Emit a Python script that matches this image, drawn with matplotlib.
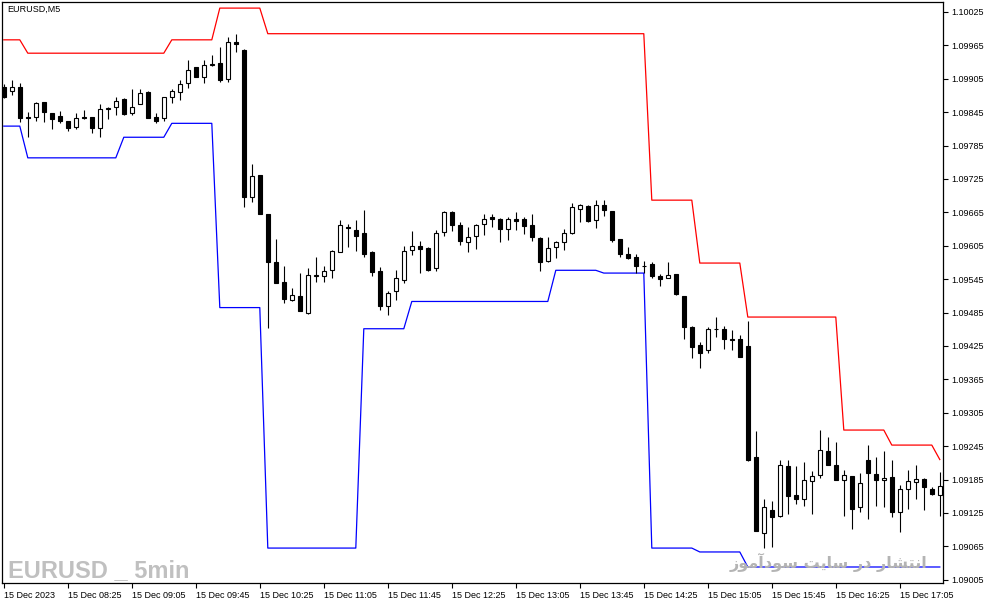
import numpy as np
import matplotlib.pyplot as plt

plt.rcParams['font.family'] = ['Liberation Sans', 'DejaVu Sans']

# EURUSD M5, 15 Dec 2023 from 07:45
opens = [1.09890, 1.09883, 1.09890, 1.09836, 1.09837, 1.09863, 1.09843, 1.09838, 1.09829, 1.09819,
         1.09836, 1.09836, 1.09816, 1.09850, 1.09855, 1.09868, 1.09844, 1.09859, 1.09881, 1.09836,
         1.09834, 1.09872, 1.09881, 1.09897, 1.09926, 1.09908, 1.09930, 1.09933, 1.09904, 1.09972,
         1.09957, 1.09693, 1.09732, 1.09662, 1.09576, 1.09540, 1.09507, 1.09515, 1.09485, 1.09551,
         1.09551, 1.09561, 1.09594, 1.09639, 1.09633, 1.09628, 1.09594, 1.09560, 1.09496, 1.09523,
         1.09544, 1.09597, 1.09604, 1.09601, 1.09566, 1.09629, 1.09665, 1.09642, 1.09612, 1.09622,
         1.09644, 1.09657, 1.09653, 1.09636, 1.09653, 1.09653, 1.09642, 1.09619, 1.09577, 1.09602,
         1.09612, 1.09628, 1.09671, 1.09677, 1.09651, 1.09678, 1.09668, 1.09617, 1.09590, 1.09585,
         1.09569, 1.09573, 1.09551, 1.09548, 1.09554, 1.09515, 1.09459, 1.09426, 1.09417, 1.09456,
         1.09455, 1.09438, 1.09437, 1.09425, 1.09226, 1.09089, 1.09131, 1.09120, 1.09210, 1.09157,
         1.09151, 1.09183, 1.09193, 1.09236, 1.09211, 1.09184, 1.09191, 1.09136, 1.09221, 1.09195,
         1.09184, 1.09189, 1.09126, 1.09168, 1.09180, 1.09186, 1.09169, 1.09158]
highs = [1.09896, 1.09903, 1.09898, 1.09846, 1.09864, 1.09864, 1.09843, 1.09847, 1.09829, 1.09843,
         1.09849, 1.09836, 1.09859, 1.09854, 1.09872, 1.09871, 1.09886, 1.09886, 1.09883, 1.09843,
         1.09873, 1.09886, 1.09903, 1.09939, 1.09927, 1.09938, 1.09948, 1.09962, 1.09980, 1.09986,
         1.09959, 1.09752, 1.09732, 1.09662, 1.09618, 1.09569, 1.09529, 1.09556, 1.09566, 1.09585,
         1.09568, 1.09597, 1.09651, 1.09644, 1.09651, 1.09669, 1.09596, 1.09567, 1.09524, 1.09561,
         1.09605, 1.09632, 1.09613, 1.09602, 1.09633, 1.09668, 1.09668, 1.09647, 1.09638, 1.09645,
         1.09662, 1.09662, 1.09655, 1.09657, 1.09666, 1.09656, 1.09662, 1.09621, 1.09620, 1.09614,
         1.09635, 1.09681, 1.09680, 1.09678, 1.09687, 1.09687, 1.09668, 1.09617, 1.09603, 1.09591,
         1.09577, 1.09575, 1.09554, 1.09575, 1.09554, 1.09515, 1.09461, 1.09433, 1.09460, 1.09477,
         1.09461, 1.09454, 1.09445, 1.09470, 1.09272, 1.09150, 1.09147, 1.09221, 1.09221, 1.09210,
         1.09216, 1.09201, 1.09274, 1.09262, 1.09252, 1.09202, 1.09191, 1.09197, 1.09247, 1.09226,
         1.09236, 1.09220, 1.09175, 1.09202, 1.09211, 1.09187, 1.09172, 1.09198]
lows = [1.09871, 1.09876, 1.09828, 1.09801, 1.09830, 1.09828, 1.09815, 1.09826, 1.09812, 1.09815,
        1.09833, 1.09808, 1.09800, 1.09833, 1.09840, 1.09840, 1.09840, 1.09859, 1.09835, 1.09825,
        1.09830, 1.09862, 1.09867, 1.09889, 1.09908, 1.09898, 1.09928, 1.09900, 1.09900, 1.09954,
        1.09674, 1.09684, 1.09662, 1.09457, 1.09539, 1.09503, 1.09505, 1.09487, 1.09482, 1.09540,
        1.09540, 1.09548, 1.09593, 1.09602, 1.09596, 1.09584, 1.09551, 1.09489, 1.09481, 1.09508,
        1.09539, 1.09589, 1.09556, 1.09559, 1.09560, 1.09623, 1.09632, 1.09606, 1.09594, 1.09600,
        1.09625, 1.09638, 1.09611, 1.09616, 1.09633, 1.09627, 1.09613, 1.09560, 1.09575, 1.09583,
        1.09598, 1.09626, 1.09647, 1.09648, 1.09637, 1.09659, 1.09612, 1.09585, 1.09581, 1.09557,
        1.09556, 1.09548, 1.09532, 1.09547, 1.09517, 1.09438, 1.09403, 1.09386, 1.09412, 1.09442,
        1.09420, 1.09418, 1.09405, 1.09219, 1.09093, 1.09062, 1.09064, 1.09118, 1.09124, 1.09141,
        1.09138, 1.09124, 1.09187, 1.09211, 1.09184, 1.09120, 1.09097, 1.09126, 1.09114, 1.09138,
        1.09135, 1.09117, 1.09090, 1.09132, 1.09150, 1.09131, 1.09157, 1.09120]
closes = [1.09873, 1.09890, 1.09835, 1.09834, 1.09861, 1.09846, 1.09832, 1.09830, 1.09817, 1.09834,
          1.09834, 1.09817, 1.09850, 1.09852, 1.09865, 1.09841, 1.09855, 1.09879, 1.09835, 1.09830,
          1.09873, 1.09883, 1.09895, 1.09920, 1.09909, 1.09929, 1.09931, 1.09903, 1.09971, 1.09967,
          1.09693, 1.09730, 1.09662, 1.09575, 1.09539, 1.09509, 1.09516, 1.09487, 1.09552, 1.09553,
          1.09559, 1.09595, 1.09642, 1.09637, 1.09623, 1.09591, 1.09558, 1.09496, 1.09521, 1.09547,
          1.09595, 1.09604, 1.09600, 1.09561, 1.09628, 1.09665, 1.09642, 1.09614, 1.09620, 1.09642,
          1.09653, 1.09654, 1.09636, 1.09654, 1.09650, 1.09641, 1.09621, 1.09575, 1.09601, 1.09611,
          1.09628, 1.09674, 1.09678, 1.09650, 1.09678, 1.09669, 1.09615, 1.09591, 1.09583, 1.09568,
          1.09569, 1.09551, 1.09546, 1.09553, 1.09518, 1.09460, 1.09424, 1.09413, 1.09455, 1.09456,
          1.09437, 1.09435, 1.09405, 1.09220, 1.09093, 1.09136, 1.09118, 1.09211, 1.09156, 1.09150,
          1.09184, 1.09191, 1.09238, 1.09211, 1.09184, 1.09193, 1.09132, 1.09178, 1.09196, 1.09184,
          1.09187, 1.09126, 1.09169, 1.09182, 1.09186, 1.09171, 1.09160, 1.09174]

# channel lines (step levels, one value per bar)
upper = ([1.09975] * 3 + [1.09951] * 18 + [1.09975] * 6 + [1.10032] * 6 + [1.09986] * 48
         + [1.09687] * 6 + [1.09574] * 6 + [1.09477] * 12 + [1.09274] * 6 + [1.09247] * 6 + [1.09221])
lower = ([1.09820] * 3 + [1.09763] * 12 + [1.09800] * 6 + [1.09825] * 6 + [1.09494] * 6
         + [1.09062] * 12 + [1.09456] * 6 + [1.09505] * 18 + [1.09561] * 6 + [1.09556] * 6
         + [1.09062] * 6 + [1.09055] * 6 + [1.09028] * 25)

time_labels = ['15 Dec 2023', '15 Dec 08:25', '15 Dec 09:05', '15 Dec 09:45', '15 Dec 10:25',
               '15 Dec 11:05', '15 Dec 11:45', '15 Dec 12:25', '15 Dec 13:05', '15 Dec 13:45',
               '15 Dec 14:25', '15 Dec 15:05', '15 Dec 15:45', '15 Dec 16:25', '15 Dec 17:05']
price_ticks = [1.09005, 1.09065, 1.09125, 1.09185, 1.09245, 1.09305, 1.09365, 1.09425, 1.09485,
               1.09545, 1.09605, 1.09665, 1.09725, 1.09785, 1.09845, 1.09905, 1.09965, 1.10025]

o = np.array(opens)
h = np.array(highs)
l = np.array(lows)
c = np.array(closes)
x = np.arange(len(o))

fig = plt.figure(figsize=(9.87, 6.05), dpi=100)
ax = fig.add_axes([2.3 / 987, 22 / 605, 941 / 987, 581 / 605])

# channel
ax.plot(x, upper, color='#ff0000', lw=0.9, zorder=1)
ax.plot(x, lower, color='#0000ff', lw=0.9, zorder=1)

# candles
ax.vlines(x, l, h, color='black', lw=0.8, zorder=2)
bottom = np.minimum(o, c)
height = np.abs(c - o)
face = np.where(c < o, 'black', 'white')
ax.bar(x, height, bottom=bottom, width=0.55, color=face, edgecolor='black', linewidth=0.8, zorder=3)

ax.set_xlim(-0.1875, 117.4375)
ax.set_ylim(1.0899925, 1.1004296)

ax.yaxis.tick_right()
ax.set_yticks(price_ticks)
ax.set_yticklabels(['%.5f' % v for v in price_ticks])
ax.set_xticks(np.arange(0, len(time_labels) * 8, 8))
ax.set_xticklabels(time_labels, ha='left')
ax.tick_params(axis='both', direction='out', length=3.5, width=0.8, labelsize=6.5, colors='black')
ax.tick_params(axis='y', pad=2)
ax.tick_params(axis='x', pad=2)
for s in ax.spines.values():
    s.set_linewidth(0.9)

ax.text(0.005, 1 - 3 / 581, 'EURUSD,M5', transform=ax.transAxes, fontsize=6.5,
        va='top', ha='left')

# watermarks
fig.text(8 / 987, 28 / 605, 'EURUSD _ 5min', fontsize=17, fontweight='bold',
         family=['Liberation Sans'], color='#c0c0c0',
         va='baseline', ha='left', zorder=5)
fa_text = ('\ufeaf\ufeee\ufee3\ufe81\ufea9\ufeee\ufeb3 \ufe96\ufef3\ufe8e\ufeb3 '
           '\ufead\ufea9 \ufead\ufe8e\ufeb8\ufe98\ufee7\ufe8d')
fig.text(927 / 987, (605 - 568) / 605, fa_text, fontsize=11.5, fontweight='bold',
         family=['DejaVu Sans'], color='#b4b4b4', va='baseline', ha='right', zorder=5)

plt.savefig('out.png', dpi=100)
